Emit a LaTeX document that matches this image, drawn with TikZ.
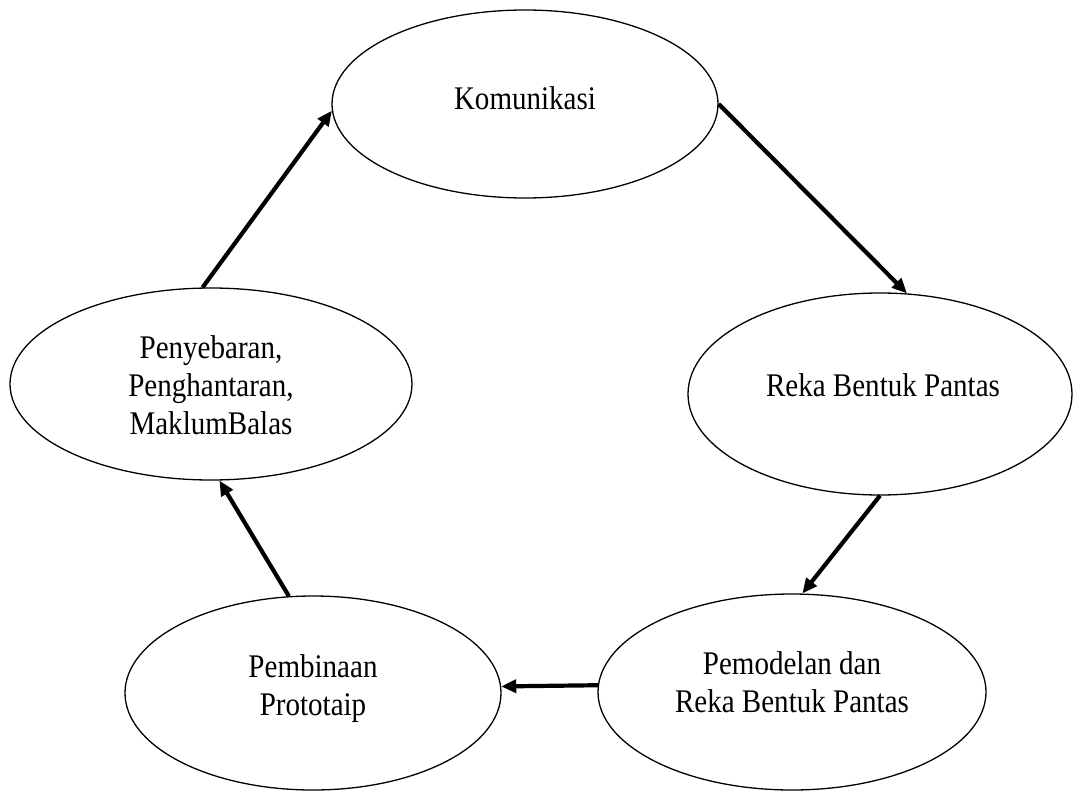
\documentclass[tikz,border=0pt]{standalone}
\usepackage{fontspec}
\setmainfont{Liberation Serif}[FakeStretch=0.88]
\usetikzlibrary{shapes.geometric,arrows.meta}
\begin{document}
\begin{tikzpicture}[x=1pt,y=-1pt,
  ell/.style={draw,ellipse,line width=1.3pt,inner sep=0pt},
  lbl/.style={align=center,inner sep=0pt,font=\fontsize{33}{38}\selectfont},
  flow/.style={line width=4.2pt,-{Triangle[length=15pt,width=13pt]}}]
\useasboundingbox[fill=white] (0,0) rectangle (1076,792);
% ellipses
\node[ell,minimum width=386pt,minimum height=188pt] (K) at (525,104) {};
\node[ell,minimum width=384pt,minimum height=202pt] (R) at (880,394) {};
\node[ell,minimum width=388pt,minimum height=196pt] (M) at (792,692) {};
\node[ell,minimum width=376pt,minimum height=194pt] (B) at (313,693) {};
\node[ell,minimum width=402pt,minimum height=192pt] (Y) at (211,384) {};
% labels
\node[lbl] (Kt) at (525,98) {Komunikasi};
\node[lbl] (Rt) at (883,385) {Reka Bentuk Pantas};
\node[lbl] (Mt) at (792,682) {Pemodelan dan\\Reka Bentuk Pantas};
\node[lbl] (Bt) at (313,689) {Pembinaan\\Prototaip};
\node[lbl] (Yt) at (211,385) {Penyebaran,\\Penghantaran,\\MaklumBalas};
% connectors
\draw[flow] (K.east) -- (R.75);
\draw[flow] (R.south) -- (M.84);
\draw[flow] (M.178) -- (B.2.5);
\draw[flow] (B.104) -- (Y.275);
\draw[flow] (Y.95) -- (K.182);
\end{tikzpicture}
\end{document}
